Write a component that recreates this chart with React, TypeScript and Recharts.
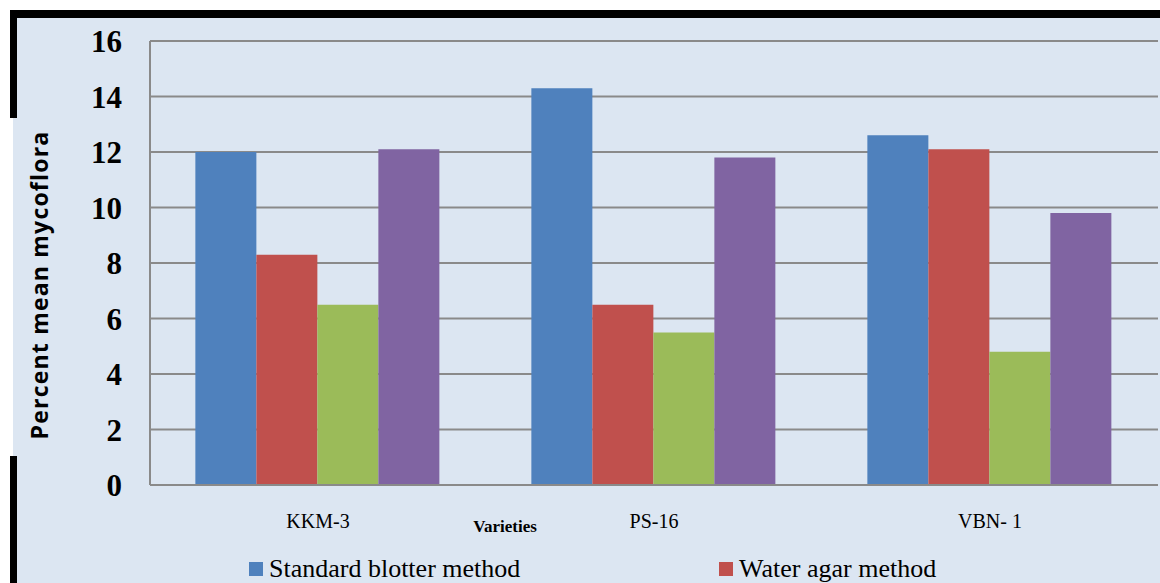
import React from "react";
import { BarChart, Bar, XAxis, YAxis, CartesianGrid } from "recharts";

const varieties = ["KKM-3", "PS-16", "VBN- 1"];
const standardBlotter = [12.0, 14.3, 12.6];
const waterAgar = [8.3, 6.5, 12.1];
const agarPlate = [6.5, 5.5, 4.8];
const deepFreeze = [12.1, 11.8, 9.8];
const yTicks = [0, 2, 4, 6, 8, 10, 12, 14, 16];

const seriesNames = [
  "Standard blotter method",
  "Water agar method",
  "Agar plate method",
  "Deep freezing method",
];
const seriesColors = ["#4f81bd", "#c0504d", "#9bbb59", "#8064a2"];
const seriesKeys = ["sb", "wa", "ap", "df"];
// only the first legend row fits inside the picture
const legendShown = 2;

const data = varieties.map((name, i) => ({
  name,
  sb: standardBlotter[i],
  wa: waterAgar[i],
  ap: agarPlate[i],
  df: deepFreeze[i],
}));

const BG = "#dce6f2";
const GRID = "#8a8a8a";

export default function App() {
  return (
    <div
      style={{
        position: "absolute",
        left: 0,
        top: 0,
        width: 1160,
        height: 583,
        overflow: "hidden",
        background: "#ffffff",
      }}
    >
      {/* panel with partial black frame */}
      <div
        style={{
          position: "absolute",
          left: 10,
          top: 10,
          width: 1150,
          height: 573,
          background: BG,
          borderTop: "8px solid #000",
          borderLeft: "7px solid #000",
          boxSizing: "border-box",
        }}
      />
      <div
        style={{
          position: "absolute",
          left: 10,
          top: 118,
          width: 7,
          height: 338,
          background: BG,
          borderLeft: "3px solid #fff",
          boxSizing: "border-box",
        }}
      />
      <div style={{ position: "absolute", left: 0, top: 0 }}>
        <BarChart
          width={1160}
          height={583}
          data={data}
          margin={{ top: 41, right: 2, bottom: 68, left: 0 }}
          barCategoryGap="13.5%"
          barGap={0}
        >
          <CartesianGrid vertical={false} stroke={GRID} strokeWidth={2} />
          <XAxis
            dataKey="name"
            height={30}
            stroke={GRID}
            strokeWidth={2}
            tickLine={false}
            tickMargin={23}
            tick={{
              fill: "#000",
              fontSize: 20,
              fontFamily: "'Liberation Serif', serif",
            }}
          />
          <YAxis
            width={150}
            domain={[0, 16]}
            ticks={yTicks}
            interval={0}
            stroke={GRID}
            strokeWidth={2}
            tickLine={false}
            tickSize={0}
            tickMargin={28}
            tick={{
              fill: "#000",
              fontSize: 31,
              fontWeight: "bold",
              fontFamily: "'Liberation Serif', serif",
            }}
          />
          {seriesKeys.map((k, i) => (
            <Bar
              key={k}
              dataKey={k}
              name={seriesNames[i]}
              fill={seriesColors[i]}
              isAnimationActive={false}
            />
          ))}
        </BarChart>
      </div>
      {/* axis titles */}
      <div
        style={{
          position: "absolute",
          left: 39,
          top: 285,
          transform: "translate(-50%, -50%) rotate(-90deg)",
          whiteSpace: "nowrap",
          fontFamily: "'Open Sans', sans-serif",
          fontWeight: "bold",
          fontSize: 23,
          letterSpacing: 1.2,
          color: "#000",
        }}
      >
        Percent mean mycoflora
      </div>
      <div
        style={{
          position: "absolute",
          left: 505,
          top: 527,
          transform: "translate(-50%, -50%)",
          whiteSpace: "nowrap",
          fontFamily: "'Liberation Serif', serif",
          fontWeight: "bold",
          fontSize: 17,
          color: "#000",
        }}
      >
        Varieties
      </div>
      {/* legend */}
      <div
        style={{
          position: "absolute",
          left: 249,
          top: 555,
          width: 940,
          display: "flex",
          fontFamily: "'Liberation Serif', serif",
          fontSize: 26,
          color: "#000",
          lineHeight: "28px",
        }}
      >
        {seriesNames.slice(0, legendShown).map((n, i) => (
          <div
            key={n}
            style={{ width: 470, display: "flex", alignItems: "center" }}
          >
            <span
              style={{
                display: "inline-block",
                width: 14,
                height: 14,
                background: seriesColors[i],
                marginRight: 6,
              }}
            />
            {n}
          </div>
        ))}
      </div>
    </div>
  );
}
